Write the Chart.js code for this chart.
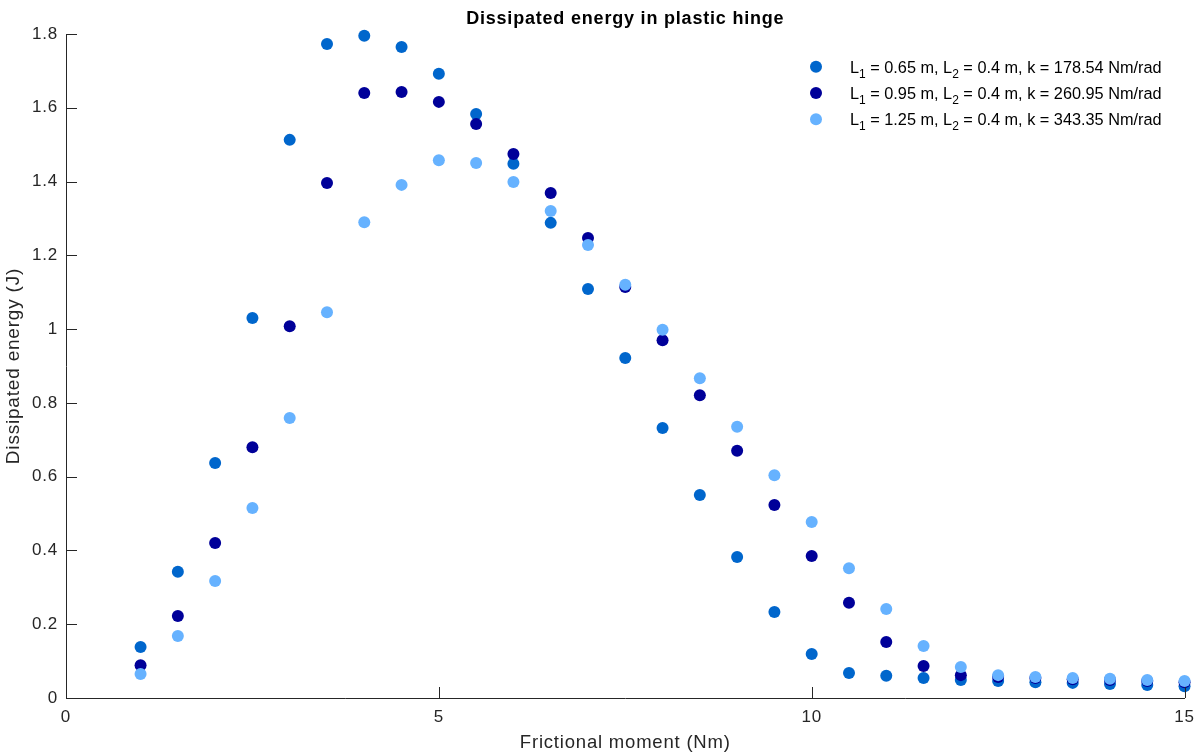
<!DOCTYPE html>
<html lang="en">
<head>
<meta charset="UTF-8">
<title>Dissipated energy in plastic hinge</title>
<script src="https://cdn.jsdelivr.net/npm/chart.js@4.4.1/dist/chart.umd.min.js"></script>
<style>
  html, body { margin: 0; padding: 0; background: #fff; }
  #wrap { width: 1203px; height: 755px; }
</style>
</head>
<body>
<div id="wrap"><canvas id="chart" width="1203" height="755"></canvas></div>
<script>
// frictional moment (Nm)
const moments = [1, 1.5, 2, 2.5, 3, 3.5, 4, 4.5, 5, 5.5, 6, 6.5, 7, 7.5, 8,
  8.5, 9, 9.5, 10, 10.5, 11, 11.5, 12, 12.5, 13, 13.5, 14, 14.5, 15];

// dissipated energy (J) for each arm length
const energyL065 = [0.138, 0.342, 0.637, 1.030, 1.513, 1.773, 1.795, 1.765, 1.692, 1.583,
  1.448, 1.288, 1.109, 0.922, 0.732, 0.550, 0.382, 0.233, 0.119, 0.068,
  0.060, 0.054, 0.049, 0.046, 0.043, 0.041, 0.038, 0.035, 0.032];
const energyL095 = [0.089, 0.222, 0.420, 0.680, 1.008, 1.396, 1.640, 1.643, 1.616, 1.556,
  1.475, 1.369, 1.247, 1.114, 0.970, 0.821, 0.670, 0.523, 0.385, 0.258,
  0.152, 0.087, 0.062, 0.057, 0.054, 0.051, 0.049, 0.046, 0.043];
const energyL125 = [0.065, 0.168, 0.317, 0.515, 0.759, 1.046, 1.290, 1.391, 1.458, 1.450,
  1.399, 1.320, 1.228, 1.120, 0.998, 0.867, 0.735, 0.604, 0.477, 0.352,
  0.241, 0.141, 0.084, 0.062, 0.057, 0.054, 0.052, 0.049, 0.046];

// legend parameters
const lengthL1 = ['0.65', '0.95', '1.25'];
const lengthL2 = ['0.4', '0.4', '0.4'];
const stiffness = ['178.54', '260.95', '343.35'];
const colors = ['#0066cc', '#000099', '#66b2ff'];

const xTicks = [0, 5, 10, 15];
const yTicks = [0, 0.2, 0.4, 0.6, 0.8, 1, 1.2, 1.4, 1.6, 1.8];

const FONT = "'Liberation Sans', Arial, Helvetica, sans-serif";
const AXIS = '#262626';

const series = [energyL065, energyL095, energyL125];

const datasets = series.map((vals, i) => ({
  label: 'L1 = ' + lengthL1[i] + ' m, L2 = ' + lengthL2[i] + ' m, k = ' + stiffness[i] + ' Nm/rad',
  data: moments.map((x, j) => ({ x: x, y: vals[j] })),
  backgroundColor: colors[i],
  borderWidth: 0,
  pointRadius: 6,
  pointHoverRadius: 6,
  clip: false,
  order: 3 - i
}));

// slightly wider text, like the original export
const textSpacing = {
  id: 'textSpacing',
  beforeDraw(chart) {
    chart.ctx.letterSpacing = '0.8px';
  }
};

// inward tick marks, matlab style
const innerTicks = {
  id: 'innerTicks',
  afterDatasetsDraw(chart) {
    const { ctx, chartArea, scales } = chart;
    const len = 11;
    ctx.save();
    ctx.strokeStyle = AXIS;
    ctx.lineWidth = 1;
    ctx.beginPath();
    xTicks.forEach(v => {
      const px = Math.round(scales.x.getPixelForValue(v)) + 0.5;
      ctx.moveTo(px, chartArea.bottom);
      ctx.lineTo(px, chartArea.bottom - len);
    });
    yTicks.forEach(v => {
      const py = Math.round(scales.y.getPixelForValue(v)) + 0.5;
      ctx.moveTo(chartArea.left, py);
      ctx.lineTo(chartArea.left + len, py);
    });
    ctx.stroke();
    ctx.restore();
  }
};

// legend with subscripted L1 / L2
const subLegend = {
  id: 'subLegend',
  afterDraw(chart) {
    const { ctx } = chart;
    const markerX = 816, textX = 850, top = 66.7, step = 26.3;
    ctx.save();
    ctx.letterSpacing = '0px';
    ctx.textBaseline = 'alphabetic';
    ctx.textAlign = 'left';
    colors.forEach((c, i) => {
      const cy = top + i * step;
      ctx.fillStyle = c;
      ctx.beginPath();
      ctx.arc(markerX, cy, 6, 0, Math.PI * 2);
      ctx.fill();

      const base = cy + 6;
      const parts = [
        ['L', 0], ['1', 1], [' = ' + lengthL1[i] + ' m, L', 0], ['2', 1],
        [' = ' + lengthL2[i] + ' m, k = ' + stiffness[i] + ' Nm/rad', 0]
      ];
      let x = textX;
      ctx.fillStyle = '#000';
      parts.forEach(([t, sub]) => {
        ctx.font = (sub ? '12px ' : '16.3px ') + FONT;
        ctx.fillText(t, x, base + (sub ? 5 : 0));
        x += ctx.measureText(t).width;
      });
    });
    ctx.restore();
  }
};

new Chart(document.getElementById('chart'), {
  type: 'scatter',
  data: { datasets: datasets },
  options: {
    responsive: false,
    animation: false,
    events: [],
    layout: { padding: { left: 0, right: 18, top: 0, bottom: 0 } },
    plugins: {
      legend: { display: false },
      tooltip: { enabled: false },
      title: {
        display: true,
        fullSize: false,
        text: 'Dissipated energy in plastic hinge',
        color: '#000',
        font: { family: FONT, size: 18, weight: 'bold' },
        padding: { top: 8.5, bottom: 3.9 }
      }
    },
    scales: {
      x: {
        type: 'linear',
        min: 0,
        max: 15,
        afterFit(scale) { scale.height = 57; },
        afterBuildTicks(scale) { scale.ticks = xTicks.map(v => ({ value: v })); },
        grid: { display: false, drawTicks: false },
        border: { display: true, color: AXIS, width: 1 },
        ticks: { color: AXIS, font: { family: FONT, size: 17 }, padding: 9, maxRotation: 0 },
        title: {
          display: true,
          text: 'Frictional moment (Nm)',
          color: AXIS,
          font: { family: FONT, size: 18.5 },
          padding: { top: 0, bottom: 0.5 }
        }
      },
      y: {
        type: 'linear',
        min: 0,
        max: 1.8,
        afterFit(scale) { scale.width = 66; },
        afterBuildTicks(scale) { scale.ticks = yTicks.map(v => ({ value: v })); },
        grid: { display: false, drawTicks: false },
        border: { display: true, color: AXIS, width: 1 },
        ticks: {
          color: AXIS,
          font: { family: FONT, size: 17 },
          padding: 8,
          callback: v => String(Number(v.toFixed(1)))
        },
        title: {
          display: true,
          text: 'Dissipated energy (J)',
          color: AXIS,
          font: { family: FONT, size: 19 },
          padding: { top: 2.2, bottom: 0 }
        }
      }
    }
  },
  plugins: [textSpacing, innerTicks, subLegend]
});
</script>
</body>
</html>
